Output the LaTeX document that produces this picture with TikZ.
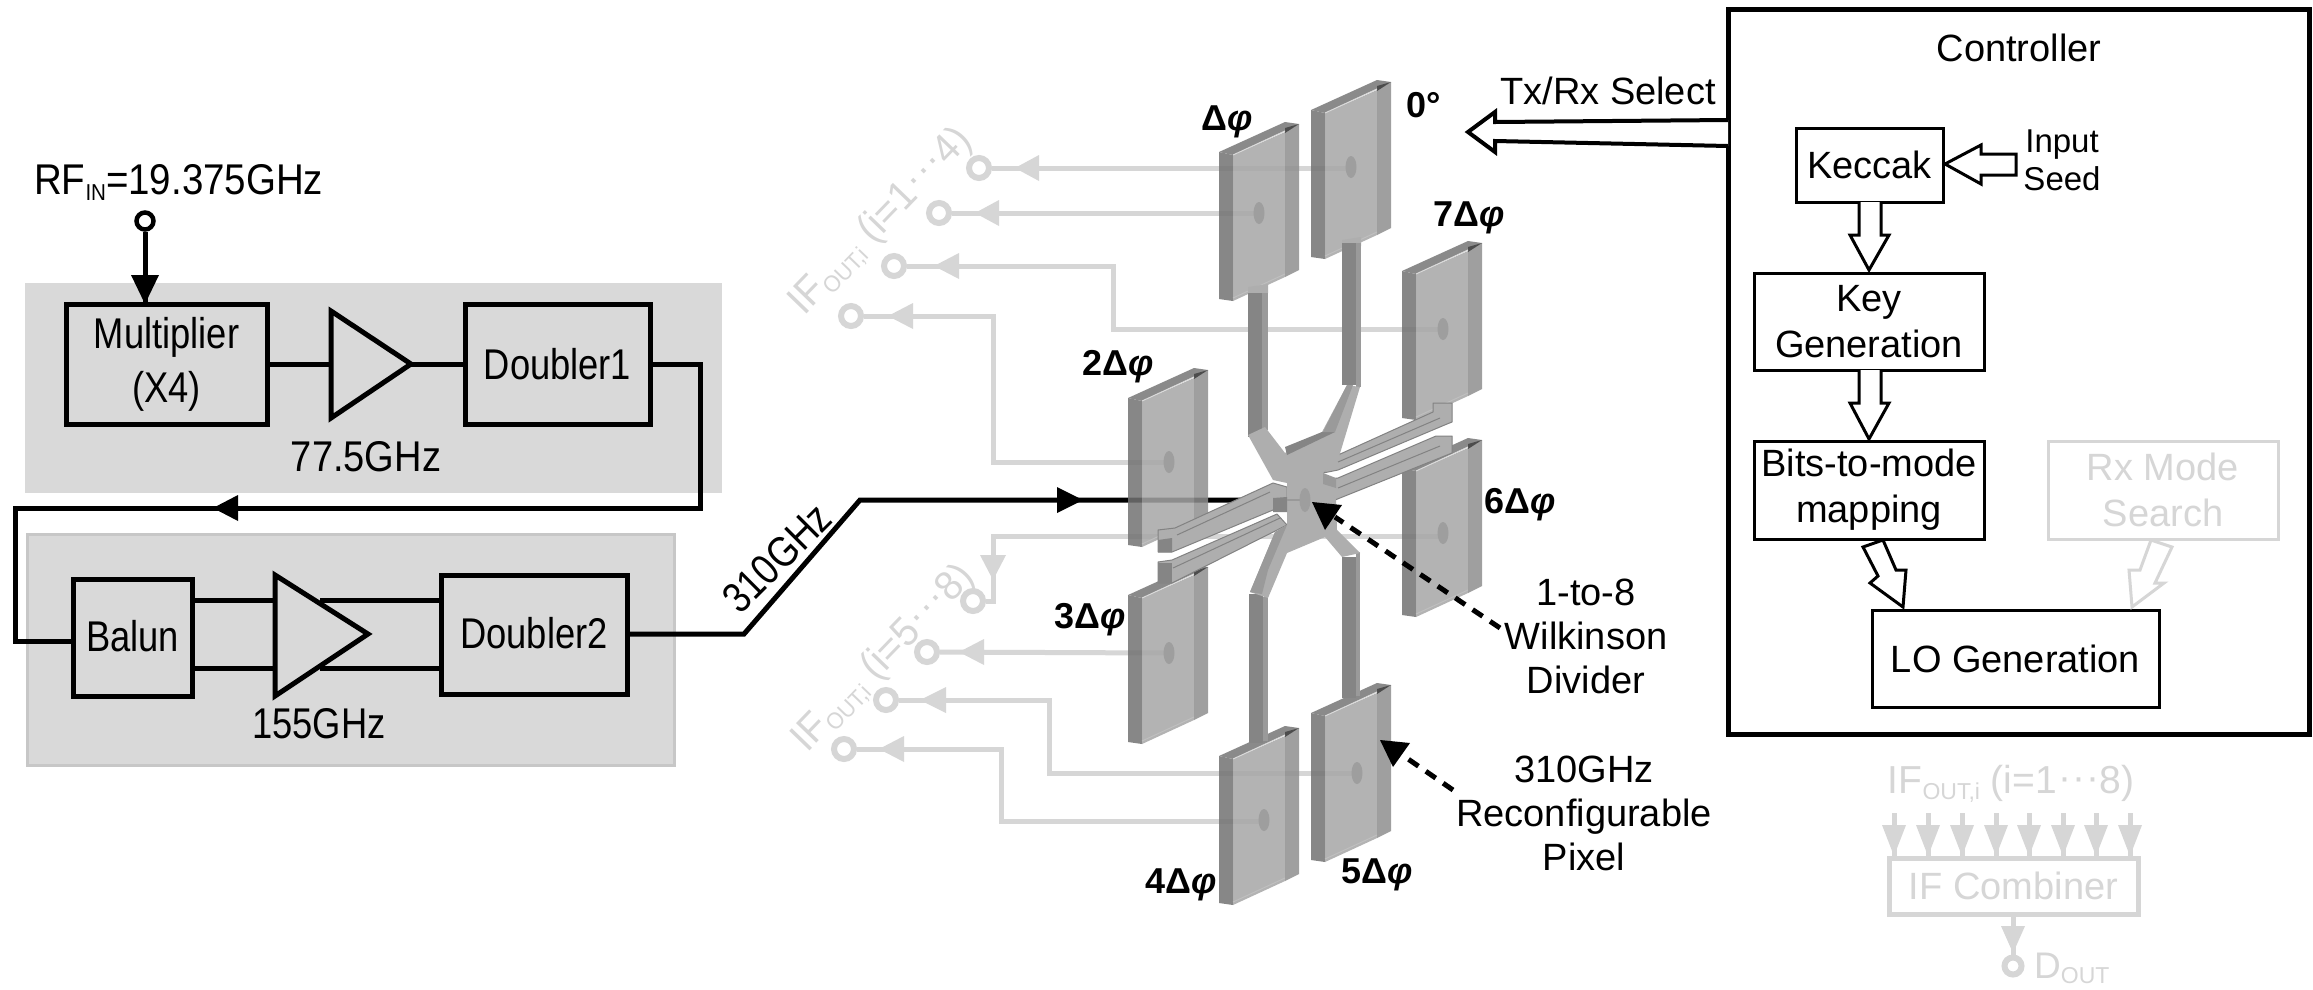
\documentclass[tikz,border=0pt]{standalone}
\usepackage{fontspec}
\setmainfont{Liberation Sans}
\usetikzlibrary{shapes.geometric}
\definecolor{ghost}{HTML}{D6D6D6}
\definecolor{band}{HTML}{D9D9D9}
\definecolor{sfill}{HTML}{AEAEAE}
\definecolor{sdark}{HTML}{858585}
\definecolor{smid}{HTML}{9A9A9A}
\definecolor{sedge}{HTML}{828282}
\newcommand{\fs}[1]{\fontsize{#1}{#1}\selectfont}
\newcommand{\nar}[1]{\scalebox{0.845}[1]{#1}}
\newcommand{\narw}[1]{\scalebox{0.885}[1]{#1}}
\newcommand{\sbs}[1]{\raisebox{-0.14em}{\fontsize{23}{23}\selectfont #1}}
\newcommand{\ifout}[2]{IF\sbs{OUT,i} (i=#1\raisebox{0.1em}{\kern.03em·\kern.03em·\kern.03em·}#2)}
\newcommand{\dphi}{Δ\textit{φ}}
% a reconfigurable pixel: #1,#2 = top left corner
\newcommand{\pixel}[2]{%
  \begin{scope}[shift={(#1,#2)}]
    \fill[fill=black!55,fill opacity=.85] (0,0)--(14,3)--(14,149)--(0,147)--cycle;
    \fill[fill=black!35,fill opacity=.85] (14,3)--(66,-20)--(66,125)--(14,149)--cycle;
    \fill[fill=black!44,fill opacity=.85] (66,-20)--(80,-28)--(80,118)--(66,125)--cycle;
    \fill[fill=black!46] (0,0)--(66,-30)--(80,-28)--(14,3)--cycle;
    \fill[fill=black!70] (66,-24)--(80,-28)--(66,-19)--cycle;
    \draw[white!85!black,line width=1] (14,3)--(66,-21);
    \draw[white!75!black,line width=1] (14,146)--(66,122);
  \end{scope}}
% a ghost arrowhead: tip, base on a horizontal run at height y
\newcommand{\ghl}[3]{\fill[ghost] (#1,#3)--(#2,#3-13)--(#2,#3+13)--cycle;}
\tikzset{
  x=1pt,y=-1pt,
  lbl/.style={inner sep=0pt,align=center,font=\fs{43}},
  rlbl/.style={inner sep=0pt,align=center,font=\fs{38}},
  plbl/.style={inner sep=0pt,font=\fs{36}\bfseries},
  bl/.style={draw=black,line width=5,fill=none,inner sep=0pt,align=center,font=\fs{43},line join=miter},
  rb/.style={draw=black,line width=3,inner sep=0pt,align=center,font=\fs{38}},
  gb/.style={draw=ghost,line width=3,inner sep=0pt,align=center,font=\fs{38},text=ghost},
  wire/.style={draw=black,line width=5,line join=miter},
  gw/.style={draw=ghost,line width=5,line join=miter},
  port/.style={circle,draw=black,line width=4.5,fill=white,minimum size=17,inner sep=0pt},
  gport/.style={circle,draw=ghost,line width=6,fill=white,minimum size=20,inner sep=0pt},
  hollow/.style={draw=black,line width=3.5,fill=white,line join=miter},
  dashl/.style={draw=black,line width=5,dash pattern=on 12pt off 9pt},
  sl/.style={fill=sfill,draw=sedge,line width=1,line join=round},
  sline/.style={draw=sedge,line width=1},
  sdot/.style={ellipse,fill=black!38,minimum width=11,minimum height=22,inner sep=0pt},
}
\begin{document}
\begin{tikzpicture}
\useasboundingbox (0,0) rectangle (2313,989);
\fill[white] (0,0) rectangle (2313,989);

% grey backgrounds
\fill[band] (25,283) rectangle (722,493);
\fill[band,draw=black!22,line width=3] (27,534) rectangle (674,765);

% left chain
\node[port] (rfin) at (145,221) {};
\node[lbl,anchor=west] (rftxt) at (34,182) {\scalebox{0.895}[1]{RF\sbs{IN}=19.375GHz}};
\node[bl,minimum width=201,minimum height=120] (mult) at (166.5,364) {\nar{Multiplier}\\[11pt]\nar{(X4)}};
\node[bl,minimum width=185,minimum height=120] (dbl1) at (557.5,364) {\nar{Doubler1}};
\node[bl,minimum width=119,minimum height=117] (balun) at (132.5,637.5) {\raisebox{3pt}{\nar{Balun}}};
\node[bl,minimum width=186,minimum height=119] (dbl2) at (534,634.5) {\raisebox{3pt}{\nar{Doubler2}}};
\node[lbl] (f1) at (366,457) {\narw{77.5GHz}};
\node[lbl] (f2) at (319,724) {\nar{155GHz}};
\coordinate (a1l) at (331,364); \coordinate (a1t) at (411,364);
\coordinate (a2lu) at (275,600); \coordinate (a2ld) at (275,668);
\coordinate (a2ru) at (320,600); \coordinate (a2rd) at (320,668);
\coordinate (r1) at (700,364); \coordinate (r2) at (700,508);
\coordinate (r3) at (15,508); \coordinate (r4) at (15,641);
\coordinate (o1) at (744,634); \coordinate (o2) at (860,500);
\coordinate (feed) at (1305,500);

% ghost pixel taps
\coordinate (d0) at (1351,167); \coordinate (d1) at (1259,213);
\coordinate (d7) at (1443,329); \coordinate (d2) at (1169,462);
\coordinate (d6) at (1443,533); \coordinate (d3) at (1169,653);
\coordinate (d5) at (1357,773); \coordinate (d4) at (1264,820);
\node[gport] (c1) at (979,168) {};
\node[gport] (c2) at (939,213) {};
\node[gport] (c3) at (894,266) {};
\node[gport] (c4) at (851,316) {};
\node[gport] (c5) at (973,601) {};
\node[gport] (c6) at (927,652) {};
\node[gport] (c7) at (886,700) {};
\node[gport] (c8) at (844,749) {};
\draw[gw] (c1) -- (c1 -| d0) -- (d0);
\draw[gw] (c2) -- (d1);
\draw[gw] (c3) -- (1113,266) -- (1113,329) -- (d7);
\draw[gw] (c4) -- (993,316) -- (993,462) -- (d2);
\draw[gw] (c5) -- (993,601) -- (993,536) -- (1443,536) -- (d6);
\draw[gw] (c6) -- (d3);
\draw[gw] (c7) -- (1049,700) -- (1049,773) -- (d5);
\draw[gw] (c8) -- (1001,749) -- (1001,821) -- (1264,821) -- (d4);
\ghl{1015}{1039}{168}\ghl{975}{999}{213}\ghl{934}{959}{266}\ghl{888}{913}{316}
\ghl{959}{984}{652}\ghl{920}{946}{700}\ghl{879}{904}{749}
\fill[ghost] (993,580)--(980,555)--(1006,555)--cycle;
\node[inner sep=0pt,font=\fs{41},text=ghost,rotate=46] (g1) at (881,222) {\scalebox{.95}[1]{\ifout{1}{4}}};
\node[inner sep=0pt,font=\fs{41},text=ghost,rotate=46] (g2) at (884,659) {\scalebox{.95}[1]{\ifout{5}{8}}};

% wires
\draw[wire] (rfin) -- (mult.north -| rfin);
\fill (145,304)--(131,275)--(159,275)--cycle;
\draw[wire] (mult.east) -- (a1l);
\draw[wire] (a1t) -- (dbl1.west);
\draw[wire] (dbl1.east) -- (r1) -- (r2) -- (r3) -- (r4) -- (r4 -| balun.west);
\fill (213,508)--(238,495)--(238,521)--cycle;
\draw[wire] (balun.east |- a2lu) -- (a2lu);
\draw[wire] (balun.east |- a2ld) -- (a2ld);
\draw[wire] (a2ru) -- (dbl2.west |- a2ru);
\draw[wire] (a2rd) -- (dbl2.west |- a2rd);
\draw[wire] (dbl2.east |- o1) -- (o1) -- (o2) -- (feed);
\fill (1083,500)--(1057,487)--(1057,513)--cycle;
\draw[line width=5,line join=miter] (331,311)--(411,364)--(331,418)--cycle;
\draw[line width=5,line join=miter] (275,575)--(368,634)--(275,696)--cycle;
\node[lbl,rotate=45] (f3) at (777,558) {\nar{310GHz}};

% pixels
\pixel{1311}{110}\pixel{1219}{152}\pixel{1402}{271}\pixel{1128}{398}
\pixel{1402}{468}\pixel{1128}{595}\pixel{1219}{756}\pixel{1311}{713}
\foreach \n in {d0,d1,d7,d2,d6,d3,d5,d4} \node[sdot] at (\n) {};

% divider: arms
\fill[sfill] (1248,287)--(1268,284)--(1268,293)--(1248,296)--cycle;
\fill[sfill] (1342,240)--(1361,237)--(1361,246)--(1342,249)--cycle;
\fill[sdark] (1248,293) rectangle (1262,437);
\fill[smid] (1262,293) rectangle (1268,430);
\fill[sdark] (1342,243) rectangle (1356,385);
\fill[smid] (1356,243) rectangle (1361,387);
\fill[sdark] (1249,594) rectangle (1263,743);
\fill[smid] (1263,597) rectangle (1268,741);
\fill[sdark] (1342,557) rectangle (1356,698);
\fill[smid] (1356,552) rectangle (1360,696);
% divider: side strips
\path[sl] (1338,455)--(1433,412)--(1433,403)--(1452,403)--(1452,422)--(1447,424)--(1338,470)--(1323,473)--cycle;
\path[sl] (1338,478)--(1436,436)--(1452,436)--(1452,453)--(1335,500)--(1323,480)--cycle;
\path[sl] (1273,483)--(1175,528)--(1158,530)--(1158,552)--(1172,552)--(1273,510)--(1287,505)--(1287,487)--cycle;
\path[sl] (1277,514)--(1172,560)--(1158,562)--(1158,583)--(1172,583)--(1287,525)--cycle;
\draw[sline] (1338,462)--(1440,418);
\draw[sline] (1338,488)--(1440,446);
\draw[sline] (1270,492)--(1177,535);
\draw[sline] (1280,518)--(1173,568);
% divider: star
\path[fill=sfill,line join=round] (1248,435)--(1265,427)--(1285,453)--(1322,432)--(1347,385)--(1360,387)--(1338,460)
  --(1323,473)--(1336,500)--(1337,530)--(1360,553)--(1342,557)--(1325,537)--(1287,553)--(1268,598)--(1250,592)
  --(1275,532)--(1287,525)--(1287,483)--(1273,480)--cycle;
\fill[sdark] (1285,447)--(1322,432)--(1335,432)--(1287,455)--cycle;
\fill[smid] (1323,432)--(1347,385)--(1353,385)--(1335,432)--cycle;
\fill[smid] (1250,592)--(1275,532)--(1287,525)--(1268,570)--(1262,594)--cycle;
\fill[smid] (1323,473)--(1336,478)--(1336,488)--(1323,484)--cycle;
\fill[sdark] (1273,498)--(1287,497)--(1287,512)--(1273,512)--cycle;
\fill[sdark] (1158,540)--(1172,538)--(1172,552)--(1158,552)--cycle;
\fill[sdark] (1158,563)--(1172,563)--(1172,583)--(1158,583)--cycle;
\draw[black!40,line width=1.5] (1287,500) -- (feed);
\node[ellipse,fill=black!38,minimum width=11,minimum height=24,inner sep=0pt] (fd) at (feed) {};

% pixel labels
\node[plbl] (p0) at (1227,122) {\dphi};
\node[plbl] (pz) at (1424,105) {0°};
\node[plbl] (p7) at (1469,218) {7\dphi};
\node[plbl] (p2) at (1118,367) {2\dphi};
\node[plbl] (p6) at (1520,505) {6\dphi};
\node[plbl] (p3) at (1090,620) {3\dphi};
\node[plbl] (p4) at (1181,885) {4\dphi};
\node[plbl] (p5) at (1377,875) {5\dphi};

% callouts
\node[rlbl] (wdiv) at (1586,636) {1-to-8\\[6pt]Wilkinson\\[6pt]Divider};
\node[rlbl] (rpix) at (1584,813) {310GHz\\[6pt]Reconfigurable\\[6pt]Pixel};
\coordinate (wt) at (1312,502); \coordinate (rt) at (1380,740);
\draw[dashl] (1500,628) -- (1335,517);
\fill (wt)--(1342,505)--(1325,530)--cycle;
\draw[dashl] (1453,790) -- (1395,750);
\fill (rt)--(1410,743)--(1393,767)--cycle;

% controller
\node[draw=black,line width=5,minimum width=581,minimum height=725,inner sep=0pt] (ctl) at (2018.5,372) {};
\node[rlbl] (ctxt) at (2019,48) {Controller};
\node[rb,minimum width=147,minimum height=74] (kec) at (1869.5,165) {Keccak};
\node[rb,minimum width=230,minimum height=97] (key) at (1869,321.5) {Key\\[8pt]Generation};
\node[rb,minimum width=230,minimum height=98] (bits) at (1869,490) {Bits-to-mode\\[8pt]mapping};
\node[gb,minimum width=230,minimum height=98] (rxm) at (2163,490) {Rx Mode\\[8pt]Search};
\node[rb,minimum width=287,minimum height=97] (lo) at (2015.5,658.5) {LO Generation};
\node[inner sep=0pt,align=center,font=\fs{33}] (seed) at (2062,160) {Input\\[5pt]Seed};
\draw[hollow,line width=3] (1945,164)--(1981,145)--(1981,154)--(2016,154)--(2016,175)--(1981,175)--(1981,184)--cycle;
\draw[hollow,line width=3] (1859,202)--(1859,235)--(1850,235)--(1869,270)--(1889,235)--(1881,235)--(1881,202);
\draw[hollow,line width=3] (1859,370)--(1859,403)--(1850,403)--(1869,439)--(1889,403)--(1881,403)--(1881,370);
\draw[hollow,line width=3] (1863,547)--(1883,540)--(1896,570)--(1906,570)--(1903,607)--(1870,583)--(1878,576)--cycle;
\draw[hollow,draw=ghost,line width=3] (2151,540)--(2172,547)--(2155,583)--(2164,583)--(2132,607)--(2129,570)--(2140,570)--cycle;
\draw[hollow,line width=4] (1728,120)--(1495,122)--(1495,112)--(1468,132)--(1495,152)--(1495,141)--(1728,146);
\node[rlbl] (txrx) at (1608,91) {Tx/Rx Select};

% IF combiner
\node[inner sep=0pt,font=\fs{39},text=ghost] (gif) at (2011,784) {\ifout{1}{8}};
\node[gb,line width=5,minimum width=249,minimum height=56] (comb) at (2013.5,886) {IF Combiner};
\foreach \xx in {1894,1928,1962,1996,2029,2063,2096,2130}{
  \coordinate (t\xx) at (\xx,813);
  \draw[gw] (t\xx) -- (t\xx |- comb.north);
  \fill[ghost] (\xx,856)--(\xx-12,825)--(\xx+12,825)--cycle;
}
\node[gport,minimum size=17] (dout) at (2013,966) {};
\draw[gw] (comb.south -| dout) -- (dout);
\fill[ghost] (2013,953)--(2001,926)--(2025,926)--cycle;
\node[inner sep=0pt,font=\fs{37},text=ghost,anchor=west] (dtxt) at (2034,968) {D\sbs{OUT}};
\end{tikzpicture}
\end{document}
